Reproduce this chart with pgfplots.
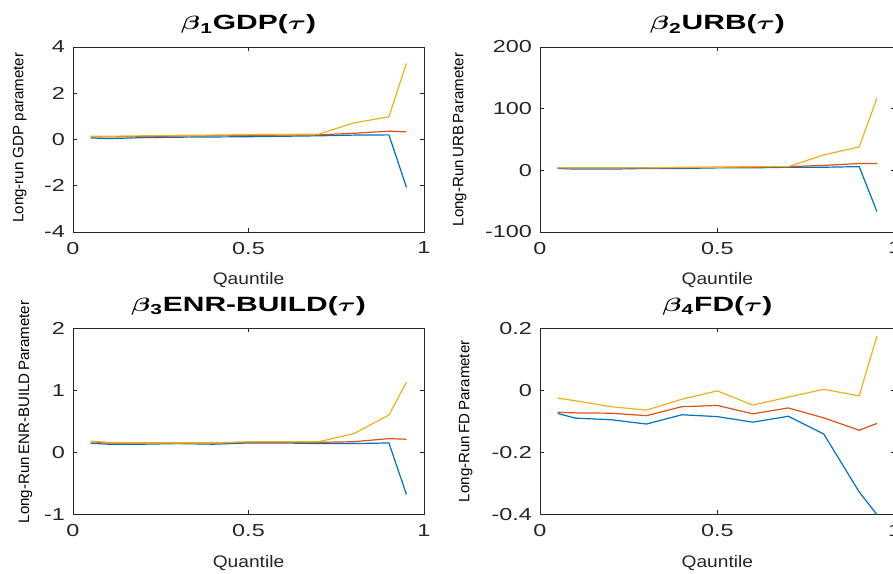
\documentclass[border=0pt]{standalone}
\usepackage{fontspec}
\setmainfont{Liberation Sans}
\usepackage{amsmath}
\usepackage{pgfplots}
\pgfplotsset{compat=1.18}

\definecolor{mblue}{RGB}{0,114,189}
\definecolor{mred}{RGB}{217,83,25}
\definecolor{myel}{RGB}{237,177,32}
\definecolor{axgray}{RGB}{38,38,38}

\pgfplotsset{
  mlab/.style={
    scale only axis,
    xmin=0, xmax=1,
    xtick={0,0.5,1},
    tick align=inside,
    major tick length=3pt,
    axis line style={axgray, line width=0.6pt},
    tick style={axgray, line width=0.6pt},
    every tick label/.append style={text=axgray},
    /pgf/number format/assume math mode=true,
    tick label style={font=\fontsize{13}{13}\selectfont, xscale=1.35},
    xticklabel style={yshift=-4pt},
    yticklabel style={xshift=-1pt},
    title style={font=\bfseries\fontsize{15.5}{16}\selectfont, xscale=1.45,
      at={(0.5,1)}, anchor=south, yshift=0pt, text=black},
    xlabel style={font=\fontsize{12.5}{13}\selectfont, xscale=1.15, text=axgray,
      at={(axis description cs:0.5,-0.26)}, anchor=center},
    ylabel style={font=\fontsize{11.3}{12}\selectfont, text=black, anchor=center},
    every axis plot/.append style={line width=0.9pt},
    clip=false,
  },
}

\begin{document}
\begin{tikzpicture}

% beta1 GDP
\begin{axis}[mlab, at={(54.75pt,256.5pt)}, anchor=south west,
  width=263.25pt, height=138.75pt,
  ymin=-4, ymax=4, ytick={-4,-2,0,2,4},
  title={$\boldsymbol{\beta}$\textsubscript{1}GDP($\boldsymbol{\tau}$)},
  xlabel={Qauntile},
  ylabel={Long-run GDP parameter},
  ylabel style={at={(axis description cs:-0.152,0.51)}}]
\addplot[mblue] coordinates {(0.05,0.07) (0.1,0.04) (0.2,0.08) (0.3,0.10) (0.4,0.11) (0.5,0.12) (0.6,0.14) (0.7,0.16) (0.8,0.19) (0.9,0.20) (0.95,-2.07)};
\addplot[mred] coordinates {(0.05,0.12) (0.1,0.12) (0.2,0.13) (0.3,0.15) (0.4,0.17) (0.5,0.18) (0.6,0.19) (0.7,0.20) (0.8,0.27) (0.9,0.36) (0.95,0.33)};
\addplot[myel] coordinates {(0.05,0.14) (0.1,0.14) (0.2,0.16) (0.3,0.18) (0.4,0.19) (0.5,0.21) (0.6,0.22) (0.7,0.23) (0.8,0.72) (0.9,0.98) (0.95,3.30)};
\end{axis}

% beta2 URB
\begin{axis}[mlab, at={(405pt,256.5pt)}, anchor=south west,
  width=266pt, height=138.75pt,
  ymin=-100, ymax=200, ytick={-100,0,100,200},
  title={$\boldsymbol{\beta}$\textsubscript{2}URB($\boldsymbol{\tau}$)},
  xlabel={Qauntile},
  ylabel={Long-Run\,URB\,Parameter},
  ylabel style={at={(axis description cs:-0.226,0.5)}}]
\addplot[mblue] coordinates {(0.05,3) (0.1,2) (0.2,2) (0.3,3) (0.4,3) (0.5,4) (0.6,4) (0.7,5) (0.8,5) (0.9,6) (0.95,-67)};
\addplot[mred] coordinates {(0.05,4) (0.1,4) (0.2,4) (0.3,4) (0.4,4) (0.5,5) (0.6,5) (0.7,6) (0.8,8) (0.9,11) (0.95,11)};
\addplot[myel] coordinates {(0.05,4) (0.1,4) (0.2,4) (0.3,4) (0.4,5) (0.5,5) (0.6,6) (0.7,6) (0.8,25) (0.9,38) (0.95,117)};
\end{axis}

% beta3 ENR-BUILD
\begin{axis}[mlab, at={(54.75pt,44.8pt)}, anchor=south west,
  width=263.25pt, height=139.5pt,
  ymin=-1, ymax=2, ytick={-1,0,1,2},
  title={$\boldsymbol{\beta}$\textsubscript{3}ENR-BUILD($\boldsymbol{\tau}$)},
  xlabel={Quantile},
  ylabel={Long-Run\,ENR-BUILD\,Parameter},
  ylabel style={at={(axis description cs:-0.135,0.55)}}]
\addplot[mblue] coordinates {(0.05,0.145) (0.1,0.13) (0.2,0.13) (0.3,0.14) (0.4,0.13) (0.5,0.15) (0.6,0.15) (0.7,0.14) (0.8,0.14) (0.9,0.15) (0.95,-0.68)};
\addplot[mred] coordinates {(0.05,0.17) (0.1,0.15) (0.2,0.15) (0.3,0.15) (0.4,0.15) (0.5,0.16) (0.6,0.16) (0.7,0.16) (0.8,0.17) (0.9,0.22) (0.95,0.21)};
\addplot[myel] coordinates {(0.05,0.18) (0.1,0.16) (0.2,0.15) (0.3,0.15) (0.4,0.15) (0.5,0.17) (0.6,0.17) (0.7,0.17) (0.8,0.30) (0.9,0.60) (0.95,1.13)};
\end{axis}

% beta4 FD
\begin{axis}[mlab, at={(405pt,44.8pt)}, anchor=south west,
  width=266pt, height=139.5pt,
  ymin=-0.4, ymax=0.2, ytick={-0.4,-0.2,0,0.2},
  yticklabel style={/pgf/number format/fixed},
  title={$\boldsymbol{\beta}$\textsubscript{4}FD($\boldsymbol{\tau}$)},
  xlabel={Qauntile},
  ylabel={Long-Run\,FD\,Parameter},
  ylabel style={at={(axis description cs:-0.209,0.5)}}]
\addplot[mblue] coordinates {(0.05,-0.075) (0.1,-0.090) (0.2,-0.095) (0.3,-0.109) (0.4,-0.079) (0.5,-0.085) (0.6,-0.103) (0.7,-0.084) (0.8,-0.141) (0.9,-0.328) (0.95,-0.401)};
\addplot[mred] coordinates {(0.05,-0.071) (0.1,-0.073) (0.2,-0.074) (0.3,-0.082) (0.4,-0.053) (0.5,-0.049) (0.6,-0.076) (0.7,-0.057) (0.8,-0.089) (0.9,-0.129) (0.95,-0.107)};
\addplot[myel] coordinates {(0.05,-0.025) (0.1,-0.034) (0.2,-0.053) (0.3,-0.064) (0.4,-0.029) (0.5,-0.002) (0.6,-0.048) (0.7,-0.022) (0.8,0.003) (0.9,-0.018) (0.95,0.175)};
\end{axis}

\pgfresetboundingbox
\useasboundingbox (0,0) rectangle (669.75pt,430.5pt);
\end{tikzpicture}
\end{document}
